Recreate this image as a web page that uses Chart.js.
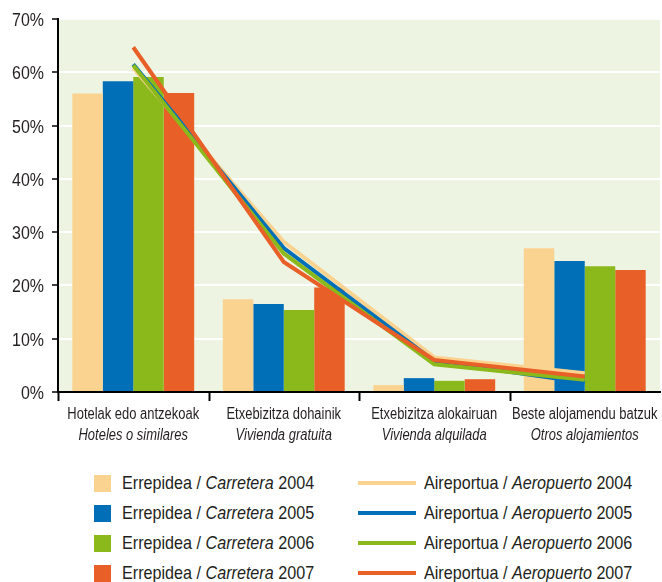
<!DOCTYPE html>
<html>
<head>
<meta charset="utf-8">
<script src="https://cdn.jsdelivr.net/npm/chart.js@4/dist/chart.umd.min.js"></script>
<style>
  body { margin: 0; background: #fff; font-family: "Liberation Sans", Arial, sans-serif; color: #231f20; }
  #wrap { position: relative; width: 662px; height: 582px; overflow: hidden; }
  #chart { position: absolute; left: 0; top: 0; }
  .leg { position: absolute; font-size: 19px; line-height: 20px; white-space: nowrap; transform: scaleX(0.85); transform-origin: 0 50%; }
  .leg i { font-style: italic; }
  .sw { position: absolute; }
</style>
</head>
<body>
<div id="wrap">
  <canvas id="chart" width="662" height="450"></canvas>
  <div id="legend"></div>
</div>
<script>
// categorias (euskara / castellano)
var catEu = ["Hotelak edo antzekoak", "Etxebizitza dohainik", "Etxebizitza alokairuan", "Beste alojamendu batzuk"]
var catEs = ["Hoteles o similares", "Vivienda gratuita", "Vivienda alquilada", "Otros alojamientos"]
var years = ["2004", "2005", "2006", "2007"]

// Errepidea / Carretera (barras)
var road2004 = [56.0, 17.4, 1.3, 27.0]
var road2005 = [58.3, 16.5, 2.6, 24.6]
var road2006 = [59.1, 15.4, 2.1, 23.6]
var road2007 = [56.1, 19.6, 2.4, 22.9]

// Aireportua / Aeropuerto (lineas)
var air2004 = [60.8, 28.2, 6.5, 3.5]
var air2005 = [61.5, 27.0, 5.8, 1.8]
var air2006 = [61.3, 26.0, 5.2, 2.3]
var air2007 = [64.7, 24.4, 6.0, 2.9]

var yTicks = [0, 10, 20, 30, 40, 50, 60, 70]
var colors = ["#fbd391", "#006fb7", "#8bb81b", "#e85f27"]

var roads = [road2004, road2005, road2006, road2007]
var airs = [air2004, air2005, air2006, air2007]

var datasets = []
// lineas: la de order mas bajo se pinta encima
for (var i = 3; i >= 0; i--) {
    datasets.push({
        type: 'line',
        label: 'Aireportua / Aeropuerto ' + years[i],
        data: airs[i],
        borderColor: colors[i],
        backgroundColor: colors[i],
        borderWidth: 4,
        pointRadius: 0,
        tension: 0,
        order: 3 - i
    })
}
for (var i = 0; i < 4; i++) {
    datasets.push({
        type: 'bar',
        label: 'Errepidea / Carretera ' + years[i],
        data: roads[i],
        backgroundColor: colors[i],
        borderWidth: 0,
        barPercentage: 1,
        categoryPercentage: 0.81,
        order: 10 + i
    })
}

// texto estrecho (la fuente original es condensada)
function narrowText(ctx, txt, x, y, font, sx) {
    ctx.save()
    ctx.font = font
    ctx.translate(x, y)
    ctx.scale(sx, 1)
    ctx.fillText(txt, 0, 0)
    ctx.restore()
}

var bgPlugin = {
    id: 'bgPlugin',
    beforeDraw: function(chart) {
        var a = chart.chartArea, ctx = chart.ctx
        ctx.save()
        ctx.fillStyle = '#eef4e2'
        ctx.fillRect(a.left, a.top, a.right - a.left, a.bottom - a.top)
        ctx.restore()
    },
    afterDraw: function(chart) {
        var a = chart.chartArea, ctx = chart.ctx, xs = chart.scales.x, ys = chart.scales.y
        ctx.save()
        // marcas del eje x
        ctx.strokeStyle = '#000'
        ctx.lineWidth = 2
        var w = xs.getPixelForValue(1) - xs.getPixelForValue(0)
        for (var i = 0; i < catEu.length; i++) {
            var x = Math.round(xs.getPixelForValue(i) - w / 2) + 0.5
            ctx.beginPath()
            ctx.moveTo(x, a.bottom)
            ctx.lineTo(x, a.bottom + 9)
            ctx.stroke()
        }
        ctx.fillStyle = '#231f20'
        // etiquetas eje y
        ctx.textAlign = 'right'
        ctx.textBaseline = 'alphabetic'
        for (var k = 0; k < yTicks.length; k++) {
            narrowText(ctx, yTicks[k] + '%', 44, ys.getPixelForValue(yTicks[k]) + 7, '19px "Liberation Sans"', 0.84)
        }
        // etiquetas de categoria
        ctx.textAlign = 'center'
        for (var i = 0; i < catEu.length; i++) {
            var c = xs.getPixelForValue(i)
            narrowText(ctx, catEu[i], c, 419, '16px "Liberation Sans"', 0.81)
            narrowText(ctx, catEs[i], c, 440, 'italic 16px "Liberation Sans"', 0.81)
        }
        ctx.restore()
    }
}

var ctx = document.getElementById("chart").getContext("2d")
var myChart = new Chart(ctx, {
    type: 'bar',
    data: { labels: catEu, datasets: datasets },
    options: {
        responsive: false,
        animation: false,
        layout: { padding: { top: 19, right: 2, left: 0, bottom: 0 } },
        plugins: { legend: { display: false }, tooltip: { enabled: false } },
        scales: {
            x: {
                offset: true,
                grid: { display: false },
                border: { color: '#000', width: 2 },
                ticks: { display: false },
                afterFit: function(s) { s.height = 450 - 19 - 373 }
            },
            y: {
                min: 0,
                max: 70,
                afterBuildTicks: function(s) { s.ticks = yTicks.map(function(v) { return { value: v } }) },
                ticks: { display: false },
                grid: { color: '#ffffff', lineWidth: 2, tickColor: '#000', tickLength: 6, tickWidth: 1.5 },
                border: { color: '#000', width: 2 },
                afterFit: function(s) { s.width = 58 }
            }
        }
    },
    plugins: [bgPlugin]
})

// leyenda en HTML, dos columnas
var leg = document.getElementById('legend')
var rowsY = [483, 513, 543, 573]
for (var i = 0; i < 4; i++) {
    var box = document.createElement('div')
    box.className = 'sw'
    box.style.cssText = 'left:94px;top:' + (rowsY[i] - 8) + 'px;width:17px;height:17px;background:' + colors[i]
    leg.appendChild(box)
    var t = document.createElement('div')
    t.className = 'leg'
    t.style.left = '122px'
    t.style.top = (rowsY[i] - 10) + 'px'
    t.innerHTML = 'Errepidea / <i>Carretera</i> ' + years[i]
    leg.appendChild(t)

    var ln = document.createElement('div')
    ln.className = 'sw'
    ln.style.cssText = 'left:358px;top:' + (rowsY[i] - 2) + 'px;width:58px;height:4px;background:' + colors[i]
    leg.appendChild(ln)
    var t2 = document.createElement('div')
    t2.className = 'leg'
    t2.style.left = '424px'
    t2.style.top = (rowsY[i] - 10) + 'px'
    t2.innerHTML = 'Aireportua / <i>Aeropuerto</i> ' + years[i]
    leg.appendChild(t2)
}
</script>
</body>
</html>
